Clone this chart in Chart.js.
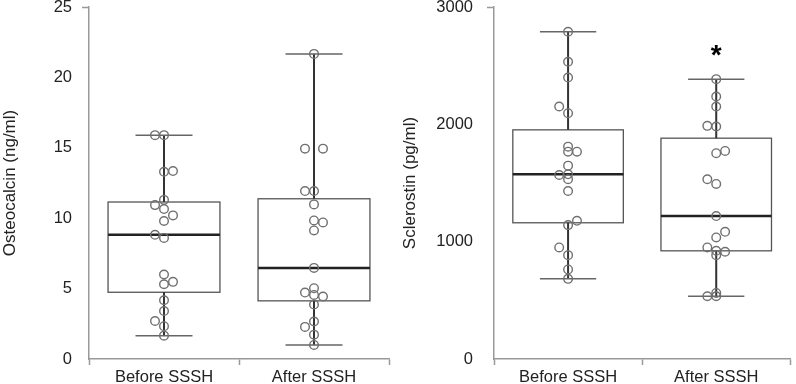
<!DOCTYPE html>
<html>
<head>
<meta charset="utf-8">
<script src="https://cdn.jsdelivr.net/npm/chart.js@4.4.1/dist/chart.umd.min.js"></script>
<style>
  body { margin: 0; background: #fff; }
  #wrap { position: relative; width: 796px; height: 384px; }
  canvas { position: absolute; top: 0; }
</style>
</head>
<body>
<div id="wrap">
  <canvas id="ostChart" width="400" height="384" style="left:0"></canvas>
  <canvas id="sclChart" width="396" height="384" style="left:400px"></canvas>
</div>
<script>
const groups = ['Before SSSH', 'After SSSH'];

// Osteocalcin (ng/ml), individual points; side = -1 left, 0 centre, 1 right of the whisker
const ostBefore = [15.9, 15.9, 13.3, 13.35, 11.3, 10.93, 10.65, 10.2, 9.8, 8.82, 8.6, 6.0, 5.31, 5.48, 4.17, 3.41, 2.7, 2.33, 1.66];
const ostBeforeSide = [-1, 0, 0, 1, 0, -1, 0, 1, 0, -1, 0, 0, 0, 1, 0, 0, -1, 0, 0];
const ostAfter = [21.67, 14.94, 14.94, 11.93, 11.93, 10.98, 9.84, 9.7, 9.13, 6.47, 5.03, 4.72, 4.55, 4.44, 3.87, 2.66, 2.28, 1.73, 1.0];
const ostAfterSide = [0, -1, 1, -1, 0, 0, 0, 1, 0, 0, 0, -1, 0, 1, 0, 0, -1, 0, 0];
// box stats: [whisker low, q1, median, q3, whisker high]
const ostStats = [[1.66, 4.74, 8.82, 11.15, 15.9], [1.0, 4.13, 6.47, 11.38, 21.67]];
const ostTicks = [0, 5, 10, 15, 20, 25];

// Sclerostin (pg/ml)
const sclBefore = [2789, 2533, 2399, 2152, 2095, 1810, 1767, 1767, 1648, 1568, 1574, 1532, 1432, 1178, 1141, 951, 885, 763, 683];
const sclBeforeSide = [0, 0, 0, -1, 0, 0, 0, 1, 0, -1, 0, 0, 0, 1, 0, -1, 0, 0, 0];
const sclAfter = [2385, 2237, 2152, 1987, 1981, 1773, 1754, 1532, 1492, 1218, 1084, 1036, 951, 922, 914, 885, 563, 535, 535];
const sclAfterSide = [0, 0, 0, -1, 0, 1, 0, -1, 0, 0, 1, 0, -1, 0, 1, 0, 0, -1, 0];
const sclStats = [[683, 1161, 1574, 1953, 2789], [535, 922, 1218, 1882, 2385]];
const sclTicks = [0, 1000, 2000, 3000];
const sclMarks = ['', '*'];

Chart.defaults.font.family = "'Liberation Sans', Arial, sans-serif";
Chart.defaults.color = '#222';

const JITTER = 0.06;

const boxPlugin = {
  id: 'boxes',
  beforeDatasetsDraw(chart, args, opts) {
    const { ctx, scales: { x, y } } = chart;
    ctx.save();
    opts.stats.forEach((s, i) => {
      const [lo, q1, med, q3, hi] = s.map(v => y.getPixelForValue(v));
      const xc = x.getPixelForValue(i);
      const bl = x.getPixelForValue(i - 0.373), br = x.getPixelForValue(i + 0.373);
      const cl = x.getPixelForValue(i - 0.19), cr = x.getPixelForValue(i + 0.19);
      // box
      ctx.strokeStyle = '#555';
      ctx.lineWidth = 1.3;
      ctx.strokeRect(bl, q3, br - bl, q1 - q3);
      // whiskers
      ctx.strokeStyle = '#333';
      ctx.lineWidth = 2;
      ctx.beginPath();
      ctx.moveTo(xc, q3); ctx.lineTo(xc, hi);
      ctx.moveTo(xc, q1); ctx.lineTo(xc, lo);
      ctx.stroke();
      // caps
      ctx.strokeStyle = '#666';
      ctx.lineWidth = 1.5;
      ctx.beginPath();
      ctx.moveTo(cl, hi); ctx.lineTo(cr, hi);
      ctx.moveTo(cl, lo); ctx.lineTo(cr, lo);
      ctx.stroke();
      // median
      ctx.strokeStyle = '#222';
      ctx.lineWidth = 2.5;
      ctx.beginPath();
      ctx.moveTo(bl, med); ctx.lineTo(br, med);
      ctx.stroke();
    });
    ctx.restore();
  },
  afterDatasetsDraw(chart, args, opts) {
    if (!opts.marks) return;
    const { ctx, scales: { x, y } } = chart;
    ctx.save();
    ctx.fillStyle = '#000';
    ctx.font = "bold 28px 'Liberation Sans', Arial, sans-serif";
    ctx.textAlign = 'center';
    ctx.textBaseline = 'top';
    opts.marks.forEach((m, i) => {
      if (!m) return;
      ctx.fillText(m, x.getPixelForValue(i), y.getPixelForValue(opts.stats[i][4]) - 37);
    });
    ctx.restore();
  }
};

function pts(values, side, i) {
  return values.map((v, k) => ({ x: i + side[k] * JITTER, y: v }));
}

function makeChart(id, cfg) {
  const pointStyle = {
    type: 'scatter',
    pointRadius: 4.3,
    pointHoverRadius: 4.3,
    pointBorderWidth: 1.4,
    pointBorderColor: '#707070',
    pointBackgroundColor: 'rgba(0,0,0,0)',
    clip: false
  };
  return new Chart(document.getElementById(id), {
    type: 'scatter',
    data: {
      datasets: [
        Object.assign({ data: pts(cfg.before, cfg.beforeSide, 0) }, pointStyle),
        Object.assign({ data: pts(cfg.after, cfg.afterSide, 1) }, pointStyle)
      ]
    },
    options: {
      responsive: false,
      animation: false,
      layout: { padding: { top: 7, right: cfg.padRight, left: cfg.padLeft, bottom: 0 } },
      plugins: {
        legend: { display: false },
        tooltip: { enabled: false },
        boxes: { stats: cfg.stats, marks: cfg.marks }
      },
      scales: {
        x: {
          type: 'linear',
          min: -0.5,
          max: 1.5,
          afterBuildTicks: s => { s.ticks = [-0.5, 0, 0.5, 1, 1.5].map(v => ({ value: v })); },
          ticks: {
            autoSkip: false,
            maxRotation: 0,
            padding: 3,
            font: { size: 16.5 },
            callback: v => Number.isInteger(v) ? groups[v] : ''
          },
          grid: {
            drawOnChartArea: false,
            tickLength: 6,
            tickWidth: 1.5,
            tickColor: c => Number.isInteger(c.tick.value) ? 'rgba(0,0,0,0)' : '#999'
          },
          border: { color: '#999', width: 1.5 },
          afterFit: s => { s.height = 25; s.paddingLeft = 0; s.paddingRight = 0; }
        },
        y: {
          min: 0,
          max: cfg.ticks[cfg.ticks.length - 1],
          afterBuildTicks: s => { s.ticks = cfg.ticks.map(v => ({ value: v })); },
          ticks: { padding: cfg.tickPad, font: { size: 16.5 }, callback: v => String(v) },
          grid: {
            drawOnChartArea: false,
            tickLength: 7,
            tickWidth: 1.5,
            tickColor: c => c.tick.value === cfg.ticks[cfg.ticks.length - 1] ? '#999' : 'rgba(0,0,0,0)'
          },
          border: { color: '#999', width: 1.5 },
          title: { display: true, text: cfg.title, font: { size: 17 }, padding: 0 },
          afterFit: s => { s.width = cfg.axisW; s.paddingTop = 0; s.paddingBottom = 0; }
        }
      }
    },
    plugins: [boxPlugin]
  });
}

makeChart('ostChart', {
  before: ostBefore, beforeSide: ostBeforeSide,
  after: ostAfter, afterSide: ostAfterSide,
  stats: ostStats, ticks: ostTicks, title: 'Osteocalcin (ng/ml)',
  axisW: 89, padLeft: 0, padRight: 11, tickPad: 10
});

makeChart('sclChart', {
  before: sclBefore, beforeSide: sclBeforeSide,
  after: sclAfter, afterSide: sclAfterSide,
  stats: sclStats, ticks: sclTicks, marks: sclMarks, title: 'Sclerostin (pg/ml)',
  axisW: 94, padLeft: 0, padRight: 2, tickPad: 14
});
</script>
</body>
</html>
